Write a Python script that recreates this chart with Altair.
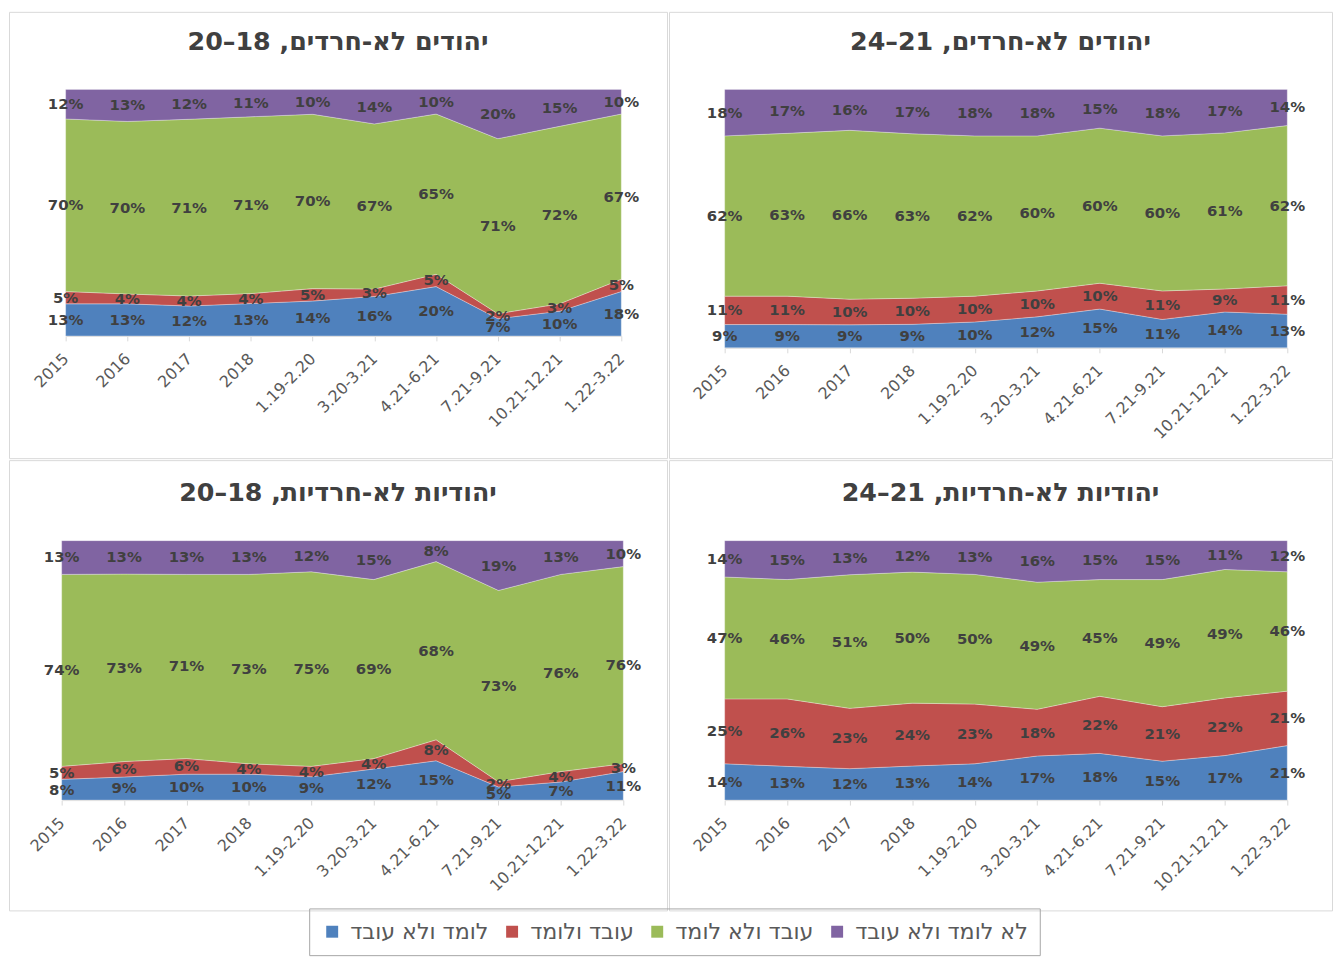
import altair as alt
import pandas as pd

X_LABELS = ["2015", "2016", "2017", "2018", "1.19-2.20", "3.20-3.21",
            "4.21-6.21", "7.21-9.21", "10.21-12.21", "1.22-3.22"]
SERIES = ["לומד ולא עובד", "עובד ולומד", "עובד ולא לומד", "לא לומד ולא עובד"]
COLORS = ["#4F81BD", "#C0504D", "#9BBB59", "#8064A2"]

# Jewish non-Haredi men 18-20 (top-left)
M1820_STUDY = [13, 13, 12, 13, 14, 16, 20, 7, 10, 18]
M1820_BOTH = [5, 4, 4, 4, 5, 3, 5, 2, 3, 5]
M1820_WORK = [70, 70, 71, 71, 70, 67, 65, 71, 72, 67]
M1820_NONE = [12, 13, 12, 11, 10, 14, 10, 20, 15, 10]

# Jewish non-Haredi men 21-24 (top-right)
M2124_STUDY = [9, 9, 9, 9, 10, 12, 15, 11, 14, 13]
M2124_BOTH = [11, 11, 10, 10, 10, 10, 10, 11, 9, 11]
M2124_WORK = [62, 63, 66, 63, 62, 60, 60, 60, 61, 62]
M2124_NONE = [18, 17, 16, 17, 18, 18, 15, 18, 17, 14]

# Jewish non-Haredi women 18-20 (bottom-left)
F1820_STUDY = [8, 9, 10, 10, 9, 12, 15, 5, 7, 11]
F1820_BOTH = [5, 6, 6, 4, 4, 4, 8, 2, 4, 3]
F1820_WORK = [74, 73, 71, 73, 75, 69, 68, 73, 76, 76]
F1820_NONE = [13, 13, 13, 13, 12, 15, 8, 19, 13, 10]

# Jewish non-Haredi women 21-24 (bottom-right)
F2124_STUDY = [14, 13, 12, 13, 14, 17, 18, 15, 17, 21]
F2124_BOTH = [25, 26, 23, 24, 23, 18, 22, 21, 22, 21]
F2124_WORK = [47, 46, 51, 50, 50, 49, 45, 49, 49, 46]
F2124_NONE = [14, 15, 13, 12, 13, 16, 15, 15, 11, 12]

TITLE_M1820 = "\u202bיהודים לא-חרדים, 18–20\u202c"
TITLE_M2124 = "\u202bיהודים לא-חרדים, 21–24\u202c"
TITLE_F1820 = "\u202bיהודיות לא-חרדיות, 18–20\u202c"
TITLE_F2124 = "\u202bיהודיות לא-חרדיות, 21–24\u202c"


def make_df(study, both, work, none):
    rows = []
    for series_idx, vals in enumerate([study, both, work, none]):
        for i, x in enumerate(X_LABELS):
            rows.append({"x": x, "series": SERIES[series_idx],
                         "order": series_idx, "value": vals[i]})
    return pd.DataFrame(rows)


def panel(df, title, w, h, xr, yr, title_y):
    xenc = alt.X("x:N",
                 scale=alt.Scale(type="point", domain=X_LABELS, range=list(xr), padding=0),
                 axis=alt.Axis(title=None, offset=-(h - yr[0]), labelAngle=315,
                               labelAlign="right", labelBaseline="middle",
                               labelFont="DejaVu Sans", labelFontSize=16,
                               labelColor="#595959", domainColor="#d9d9d9",
                               tickColor="#d9d9d9", tickSize=5, labelPadding=15,
                               labelOverlap=False, grid=False))
    yscale = alt.Scale(domain=[0, 1], range=list(yr), nice=False, zero=False)
    base = alt.Chart(df).transform_stack(
        stack="value", groupby=["x"], as_=["v0", "v1"],
        sort=[alt.SortField("order", order="ascending")], offset="normalize"
    ).transform_calculate(
        mid="(datum.v0 + datum.v1) / 2", label="datum.value + '%'"
    )
    area = base.mark_area(stroke="#ffffff", strokeWidth=0.6, strokeOpacity=0.5).encode(
        x=xenc,
        y=alt.Y("v1:Q", scale=yscale, axis=None),
        y2="v0:Q",
        color=alt.Color("series:N",
                        scale=alt.Scale(domain=SERIES, range=COLORS),
                        legend=alt.Legend(title=None, orient="none", legendX=302, legendY=902,
                                          direction="horizontal", symbolType="square",
                                          symbolSize=144, symbolStrokeWidth=0,
                                          labelFont="DejaVu Sans", labelFontSize=22.3,
                                          labelColor="#595959", labelLimit=400,
                                          strokeColor="#a6a6a6", padding=12,
                                          columnPadding=12, labelOffset=7)),
        order=alt.Order("order:Q"),
    )
    text = base.mark_text(font="DejaVu Sans", fontSize=15, fontWeight="bold",
                          color="#404040", align="center", baseline="middle").encode(
        x=xenc,
        y=alt.Y("mid:Q", scale=yscale, axis=None),
        text="label:N",
    )
    ttl = alt.Chart(pd.DataFrame({"t": [title]})).mark_text(
        font="DejaVu Sans", fontSize=25.5, fontWeight="bold", color="#404040",
        align="center", baseline="middle"
    ).encode(x=alt.value(w / 2), y=alt.value(title_y), text="t:N")
    return alt.layer(area, text, ttl).properties(width=w, height=h)


tl = panel(make_df(M1820_STUDY, M1820_BOTH, M1820_WORK, M1820_NONE), TITLE_M1820,
           662, 449, (57, 616), (326, 78), 30)
tr = panel(make_df(M2124_STUDY, M2124_BOTH, M2124_WORK, M2124_NONE), TITLE_M2124,
           667, 449, (56, 622), (338, 78), 30)
bl = panel(make_df(F1820_STUDY, F1820_BOTH, F1820_WORK, F1820_NONE), TITLE_F1820,
           662, 453, (53, 618), (342, 81), 33)
br = panel(make_df(F2124_STUDY, F2124_BOTH, F2124_WORK, F2124_NONE), TITLE_F2124,
           667, 453, (56, 622), (342, 81), 33)

chart = alt.vconcat(
    alt.hconcat(tl, tr, spacing=0),
    alt.hconcat(bl, br, spacing=0),
    spacing=0,
).properties(padding=0, background="white").configure_view(
    stroke="#d9d9d9", strokeWidth=1
).configure_concat(spacing=0)

chart.save("out.html", embed_options={"renderer": "svg", "actions": False})
